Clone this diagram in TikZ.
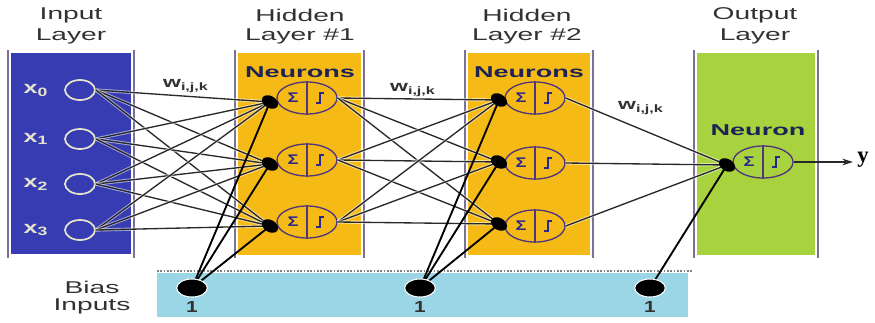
\documentclass[tikz,border=0pt]{standalone}
\usepackage{fontspec}
\setmainfont{Liberation Sans}
\newfontfamily\ybold{Liberation Serif}
\usetikzlibrary{shapes.geometric,arrows.meta}
\definecolor{inblue}{RGB}{55,60,178}
\definecolor{hidorange}{RGB}{246,186,22}
\definecolor{outgreen}{RGB}{168,210,62}
\definecolor{biasblue}{RGB}{155,214,230}
\definecolor{panelline}{RGB}{125,112,150}
\definecolor{neuline}{RGB}{80,55,125}
\definecolor{sigblue}{RGB}{40,40,140}
\definecolor{hdrgray}{RGB}{50,50,50}
\definecolor{linegray}{RGB}{40,40,40}
\definecolor{xlab}{RGB}{228,228,205}
\definecolor{neutxt}{RGB}{30,35,85}
\newcommand\hx[1]{\scalebox{1.65}[1]{#1}}
\newcommand\nx[1]{\scalebox{1.72}[1]{#1}}
\newcommand\neuronat[4]{%
  \node[neu, fill=#4] (#1) at (#2,#3) {};
  \draw[neuline, line width=0.9pt] (#1.north) -- (#1.south);
  \node[sig] (#1s) at ({#2-14},#3) {\scalebox{1.3}[1]{Σ}};
  \draw[stepsym] ({#2+9},{#3+5}) -- ++(4,0) -- ++(0,-10) -- ++(4,0);
}
\begin{document}
\begin{tikzpicture}[x=0.75pt,y=-0.75pt,
  hdr/.style={font=\fontsize{12.8}{14}\selectfont, text=hdrgray, inner sep=0},
  neulab/.style={font=\fontsize{11.8}{13}\selectfont\bfseries, text=neutxt, inner sep=0},
  pline/.style={draw=panelline, line width=1.1pt},
  neu/.style={ellipse, draw=neuline, line width=1pt, minimum width=45pt, minimum height=24pt, inner sep=0},
  sig/.style={font=\fontsize{10.5}{12}\selectfont\bfseries, text=sigblue, inner sep=0},
  stepsym/.style={draw=sigblue, line width=1.1pt},
  indot/.style={ellipse, draw=xlab, line width=1.3pt, fill=inblue, minimum width=22.5pt, minimum height=15pt, inner sep=0},
  xl/.style={font=\fontsize{13}{15}\selectfont\bfseries, text=xlab, inner sep=0},
  dot/.style={ellipse, fill=black, minimum width=13pt, minimum height=9pt, inner sep=0, rotate=-30},
  bdot/.style={ellipse, fill=black, draw=white, line width=0.8pt, minimum width=23pt, minimum height=13.5pt, inner sep=0},
  conn/.style={draw=linegray, line width=1pt, preaction={draw=white, line width=2.4pt, opacity=0.55}},
  bconn/.style={draw=black, line width=1.4pt},
  wl/.style={font=\fontsize{11.5}{13}\selectfont\bfseries, text=hdrgray, inner sep=0},
  onelab/.style={font=\fontsize{12}{14}\selectfont\bfseries, text=hdrgray, inner sep=0}
]
\useasboundingbox (0,0) rectangle (875,322);

% headers
\node[hdr] (h1a) at (71,15) {\hx{Input}};
\node[hdr] (h1b) at (71,36) {\hx{Layer}};
\node[hdr] (h2a) at (300,15) {\hx{Hidden}};
\node[hdr] (h2b) at (300,36) {\hx{Layer \#1}};
\node[hdr] (h3a) at (527,15) {\hx{Hidden}};
\node[hdr] (h3b) at (527,36) {\hx{Layer \#2}};
\node[hdr] (h4a) at (755,15) {\hx{Output}};
\node[hdr] (h4b) at (755,36) {\hx{Layer}};
\node[hdr] (bia) at (92,287) {\hx{Bias}};
\node[hdr] (bib) at (92,306) {\hx{Inputs}};

% panels
\fill[inblue] (11,53) rectangle (131,254);
\fill[hidorange] (238,53) rectangle (361,255);
\fill[hidorange] (468,53) rectangle (590,255);
\fill[outgreen] (697,53) rectangle (815,255);
\foreach \px in {8,134,235,364,465,593,694,818}
  \draw[pline] (\px,50) -- (\px,258);

% bias bar
\fill[biasblue] (157,273) rectangle (688,317);
\draw[gray, line width=1.3pt, dash pattern=on 1.2pt off 1.3pt] (157,271) -- (693,271);

% panel labels
\node[neulab] (nl1) at (300,72) {\nx{Neurons}};
\node[neulab] (nl2) at (529,72) {\nx{Neurons}};
\node[neulab] (nl3) at (758,130) {\nx{Neuron}};

% weight labels
\node[wl] (w1) at (186,86) {\scalebox{1.5}[1]{w\textsubscript{i,j,k}}};
\node[wl] (w2) at (413,90) {\scalebox{1.5}[1]{w\textsubscript{i,j,k}}};
\node[wl] (w3) at (641,108) {\scalebox{1.5}[1]{w\textsubscript{i,j,k}}};

% input nodes
\foreach \i/\yy in {0/90,1/139,2/184,3/230}{
  \node[indot] (in\i) at (80,\yy) {};
  \node[xl] (xl\i) at (36,\yy) {\scalebox{1.45}[1]{x\textsubscript{\i}}};
}

% neuron input dots
\foreach \j/\yy in {1/98,2/160,3/222}{
  \coordinate (da\j) at (270,{\yy+4});
  \coordinate (db\j) at (499,{\yy+2});
}
\coordinate (dc) at (727,165);

% bias dots positions
\coordinate (b1p) at (192,288);
\coordinate (b2p) at (420,288);
\coordinate (b3p) at (650,288);

% connections input -> hidden 1
\foreach \i in {0,1,2,3}
  \foreach \j in {1,2,3}
    \draw[conn] (in\i.east) -- (da\j);

% hidden neurons
\neuronat{ha1}{307}{98}{hidorange}
\neuronat{ha2}{307}{160}{hidorange}
\neuronat{ha3}{307}{222}{hidorange}
\neuronat{hb1}{535}{98}{hidorange}
\neuronat{hb2}{535}{163}{hidorange}
\neuronat{hb3}{535}{226}{hidorange}
\neuronat{out}{763}{162}{outgreen}

% hidden1 -> hidden2
\foreach \i in {1,2,3}
  \foreach \j in {1,2,3}
    \draw[conn] (ha\i.east) -- (db\j);
% hidden2 -> output
\foreach \i in {1,2,3}
  \draw[conn] (hb\i.east) -- (dc);

% bias connections
\foreach \j in {1,2,3}{
  \draw[bconn] (b1p) -- (da\j);
  \draw[bconn] (b2p) -- (db\j);
}
\draw[bconn] (b3p) -- (dc);

% dots on top
\foreach \j in {1,2,3}{
  \node[dot] (dda\j) at (da\j) {};
  \node[dot] (ddb\j) at (db\j) {};
}
\node[dot] (ddc) at (dc) {};
\node[bdot] (b1) at (b1p) {};
\node[bdot] (b2) at (b2p) {};
\node[bdot] (b3) at (b3p) {};
\node[onelab] (o1) at (192,307) {\scalebox{1.3}[1]{1}};
\node[onelab] (o2) at (420,307) {\scalebox{1.3}[1]{1}};
\node[onelab] (o3) at (650,307) {\scalebox{1.3}[1]{1}};

% output arrow
\coordinate (yend) at (853,162);
\draw[draw=linegray, line width=1pt, -{Stealth[length=8pt,width=5pt]}] (out.east) -- (yend);
\node[font=\ybold\bfseries\fontsize{17}{19}\selectfont, inner sep=0] (ylab) at (863,160) {y};
\end{tikzpicture}
\end{document}
